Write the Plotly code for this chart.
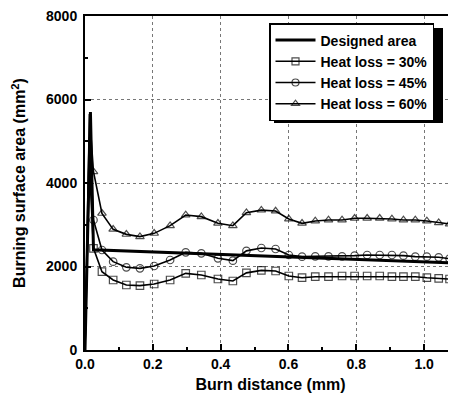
import plotly.graph_objects as go

# ---- data ----
x_marks = [0.025, 0.05, 0.083, 0.122, 0.162, 0.204, 0.251, 0.297, 0.343, 0.392, 0.436, 0.476,
           0.52, 0.562, 0.601, 0.640, 0.679, 0.718, 0.758, 0.795, 0.832, 0.869, 0.905,
           0.939, 0.974, 1.008, 1.043, 1.075]
loss60 = [4270, 3273, 2890, 2770, 2715, 2794, 2978, 3234, 3194, 3034, 2978, 3289,
          3350, 3329, 3138, 3034, 3090, 3114, 3114, 3154, 3154, 3154, 3138,
          3114, 3114, 3090, 3050, 3018]
loss45 = [3114, 2395, 2116, 1980, 1956, 2012, 2156, 2340, 2316, 2196, 2140, 2375,
          2443, 2419, 2275, 2236, 2244, 2244, 2244, 2260, 2275, 2275, 2275,
          2260, 2236, 2236, 2220, 2188]
loss30 = [2435, 1876, 1677, 1557, 1541, 1581, 1677, 1836, 1796, 1700, 1653, 1848,
          1908, 1892, 1772, 1732, 1756, 1756, 1772, 1772, 1772, 1772, 1756,
          1756, 1756, 1732, 1716, 1700]
# initial ignition spike (unmarked points)
spike_x = [0.0, 0.013]
spike60 = [0, 5650]
spike45 = [0, 5100]
spike30 = [0, 4400]

design_x = [0.0, 0.016, 0.025, 0.2, 0.4, 0.6, 0.8, 1.0, 1.094]
design_y = [0, 5700, 2400, 2350, 2290, 2230, 2170, 2110, 2080]

names = ["Designed area", "Heat loss = 30%", "Heat loss = 45%", "Heat loss = 60%"]

FONT = "Liberation Sans, Arial, Helvetica, sans-serif"

fig = go.Figure()
fig.add_trace(go.Scatter(x=design_x, y=design_y, mode="lines", name=names[0],
                         line=dict(color="black", width=3)))

for name, spike, vals, sym in [(names[1], spike30, loss30, "square-open"),
                               (names[2], spike45, loss45, "circle-open"),
                               (names[3], spike60, loss60, "triangle-up-open")]:
    xs = spike_x + x_marks
    ys = spike + vals
    sizes = [0] * len(spike_x) + [7.5] * len(x_marks)
    fig.add_trace(go.Scatter(x=xs, y=ys, mode="lines+markers", name=name,
                             line=dict(color="black", width=1.6),
                             marker=dict(symbol=sym, size=sizes, color="black",
                                         line=dict(color="black", width=1.2))))

# page body adds an 8px offset; figure coords = window coords - 8
OFF = 8
L, R, T, B = 85 - OFF, 0, 16 - OFF, 52
W, H = 456 - OFF, 402 - OFF
pw = W - L - R
ph = H - T - B

def px_x(x):
    return (x - OFF - L) / pw

def px_y(y):
    return 1 - (y - OFF - T) / ph

# legend shadow
fig.add_shape(type="rect", xref="paper", yref="paper",
              x0=px_x(274), x1=px_x(443),
              y0=px_y(123), y1=px_y(28),
              fillcolor="black", line=dict(width=0), layer="above")

fig.update_layout(
    width=W, height=H,
    margin=dict(l=L, r=R, t=T, b=B),
    paper_bgcolor="white", plot_bgcolor="white",
    font=dict(family=FONT, color="black", size=14, weight="bold"),
    showlegend=True,
    legend=dict(x=px_x(269), y=px_y(23), xanchor="left", yanchor="top",
                bgcolor="white", bordercolor="black", borderwidth=1.5,
                font=dict(family=FONT, size=14, weight="bold"),
                itemwidth=40, tracegroupgap=0),
    xaxis=dict(range=[0, 1.094], tickvals=[0, 0.2, 0.4, 0.6, 0.8, 1.0],
               ticktext=["0.0", "0.2", "0.4", "0.6", "0.8", "1.0"],
               ticks="inside", ticklen=6, tickwidth=2, tickcolor="black",
               minor=dict(dtick=0.1, ticks="inside", ticklen=3, tickwidth=1.5,
                          tickcolor="black", showgrid=False),
               showline=True, linecolor="black", linewidth=2, mirror=True,
               showgrid=True, gridcolor="#777777", griddash="dot", gridwidth=1,
               zeroline=False, automargin=False, ticklabeloverflow="allow",
               tickfont=dict(family=FONT, size=14, weight="bold"),
               title=dict(text="Burn distance (mm)", standoff=8,
                          font=dict(family=FONT, size=16, weight="bold"))),
    yaxis=dict(range=[0, 8000], tickvals=[0, 2000, 4000, 6000, 8000],
               ticks="inside", ticklen=6, tickwidth=2, tickcolor="black",
               minor=dict(dtick=1000, ticks="inside", ticklen=3, tickwidth=1.5,
                          tickcolor="black", showgrid=False),
               showline=True, linecolor="black", linewidth=2, mirror=False,
               showgrid=True, gridcolor="#777777", griddash="dot", gridwidth=1,
               zeroline=False, ticklabelstandoff=3, automargin=False,
               ticklabeloverflow="allow",
               tickfont=dict(family=FONT, size=14, weight="bold"),
               title=dict(text="Burning surface area (mm<sup>2</sup>)", standoff=16,
                          font=dict(family=FONT, size=16, weight="bold"))),
)

fig.write_html("out.html")
